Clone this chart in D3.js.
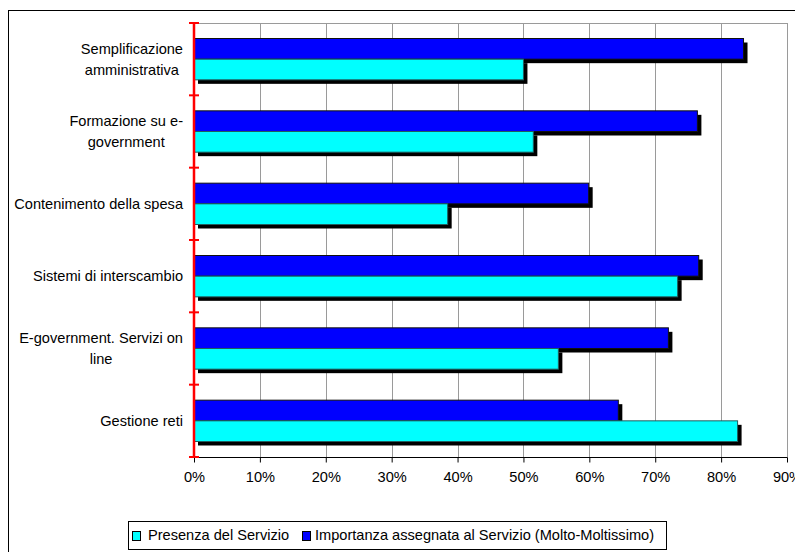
<!DOCTYPE html>
<html>
<head>
<meta charset="utf-8">
<script src="https://cdn.jsdelivr.net/npm/d3@7"></script>
<style>
  body { margin: 0; background: #fff; }
  svg text { font-family: "Liberation Sans", Arial, sans-serif; fill: #000; }
</style>
</head>
<body>
<div id="chart"></div>
<script>
// categories, top to bottom
var categories = [
  ["Semplificazione", "amministrativa"],
  ["Formazione su e-", "government"],
  ["Contenimento della spesa"],
  ["Sistemi di interscambio"],
  ["E-government. Servizi on", "line"],
  ["Gestione reti"]
];
var seriesNames = ["Presenza del Servizio", "Importanza assegnata al Servizio (Molto-Moltissimo)"];
var presenza   = [50.0, 51.5, 38.5, 73.4, 55.3, 82.5];
var importanza = [83.4, 76.4, 59.9, 76.6, 72.0, 64.4];
var xTicks = [0, 10, 20, 30, 40, 50, 60, 70, 80, 90];

var W = 795, H = 552;
var plot = {left: 194, right: 787, top: 23, bottom: 457};
var fontSize = "14.6px";

var svg = d3.select("#chart").append("svg")
    .attr("width", W)
    .attr("height", H);

// outer chart border (runs off the right/bottom edge)
svg.append("rect")
    .attr("x", 8.5).attr("y", 10.5)
    .attr("width", W + 10).attr("height", H + 10)
    .attr("fill", "#fff").attr("stroke", "#000").attr("stroke-width", 1);

var x = d3.scaleLinear().domain([0, 90]).range([plot.left, plot.right]);

var catIdx = d3.range(categories.length);
var y0 = d3.scaleBand().domain(catIdx).range([plot.top, plot.bottom]);
var y1 = d3.scaleBand().domain(["imp", "pres"]).range([0, y0.bandwidth()]).paddingOuter(0.75);

// gridlines
svg.append("g").selectAll("line")
  .data(xTicks.slice(1))
  .enter().append("line")
    .attr("x1", function(d) { return Math.round(x(d)) + 0.5; })
    .attr("x2", function(d) { return Math.round(x(d)) + 0.5; })
    .attr("y1", plot.top).attr("y2", plot.bottom)
    .attr("stroke", "#9a9a9a").attr("stroke-width", 1);

// plot top border
svg.append("line")
    .attr("x1", plot.left).attr("x2", plot.right + 0.5)
    .attr("y1", plot.top + 0.5).attr("y2", plot.top + 0.5)
    .attr("stroke", "#9a9a9a");

// x axis
var xAxis = svg.append("g")
    .attr("transform", "translate(0," + (plot.bottom + 0.5) + ")")
    .call(d3.axisBottom(x).tickValues(xTicks).tickSize(5).tickPadding(9)
      .tickFormat(function(d) { return d + "%"; }));
xAxis.select(".domain").attr("stroke", "#000").attr("d", "M" + plot.left + ",0H" + (plot.right + 0.5));
xAxis.selectAll(".tick line").attr("stroke", "#000");
xAxis.selectAll("text").style("font-size", fontSize).attr("fill", "#000");

// bars data
var bars = [];
catIdx.forEach(function(i) {
  bars.push({cat: i, key: "imp", v: importanza[i], color: "#0000ff"});
  bars.push({cat: i, key: "pres", v: presenza[i], color: "#00ffff"});
});

// shadows first
svg.append("g").selectAll("rect")
  .data(bars)
  .enter().append("rect")
    .attr("x", x(0) + 4)
    .attr("y", function(d) { return y0(d.cat) + y1(d.key) + 4; })
    .attr("width", function(d) { return x(d.v) - x(0); })
    .attr("height", y1.bandwidth())
    .attr("fill", "#000");

svg.append("g").selectAll("rect")
  .data(bars)
  .enter().append("rect")
    .attr("x", x(0))
    .attr("y", function(d) { return y0(d.cat) + y1(d.key); })
    .attr("width", function(d) { return x(d.v) - x(0); })
    .attr("height", y1.bandwidth())
    .attr("fill", function(d) { return d.color; })
    .attr("stroke", function(d) { return d.key == "imp" ? "#111" : "#1f5f5f"; })
    .attr("stroke-width", 1);

// red category axis
var yAxis = svg.append("g");
yAxis.append("line")
    .attr("x1", plot.left).attr("x2", plot.left)
    .attr("y1", plot.top).attr("y2", plot.bottom)
    .attr("stroke", "#ff0000").attr("stroke-width", 2.5);
yAxis.selectAll(".tk")
  .data(d3.range(categories.length + 1))
  .enter().append("line")
    .attr("class", "tk")
    .attr("x1", plot.left - 5).attr("x2", plot.left + 5)
    .attr("y1", function(d) { return plot.top + d * y0.step(); })
    .attr("y2", function(d) { return plot.top + d * y0.step(); })
    .attr("stroke", "#ff0000").attr("stroke-width", 2);

// category labels: block right-aligned at 183, lines centred in block
var labelRight = 183, lineH = 21;
catIdx.forEach(function(i) {
  var lines = categories[i];
  var cy = y0(i) + y0.bandwidth() / 2;
  var g = svg.append("g");
  var texts = lines.map(function(s, j) {
    return g.append("text")
      .attr("text-anchor", "middle")
      .attr("y", cy + 5 + (j - (lines.length - 1) / 2) * lineH)
      .style("font-size", fontSize)
      .text(s);
  });
  var maxW = d3.max(texts, function(t) { return t.node().getComputedTextLength(); });
  texts.forEach(function(t) { t.attr("x", labelRight - maxW / 2); });
});

// legend
var lg = svg.append("g");
lg.append("rect")
    .attr("x", 128.5).attr("y", 521.5)
    .attr("width", 538).attr("height", 28)
    .attr("fill", "#fff").attr("stroke", "#000");
var legendItems = [
  {name: seriesNames[0], color: "#00ffff", sx: 132, tx: 148},
  {name: seriesNames[1], color: "#0000ff", sx: 302, tx: 315}
];
legendItems.forEach(function(d) {
  lg.append("rect")
    .attr("x", d.sx + 0.5).attr("y", 531.5)
    .attr("width", 8).attr("height", 9)
    .attr("fill", d.color).attr("stroke", "#000");
  lg.append("text")
    .attr("x", d.tx).attr("y", 540)
    .style("font-size", fontSize)
    .text(d.name);
});
</script>
</body>
</html>
